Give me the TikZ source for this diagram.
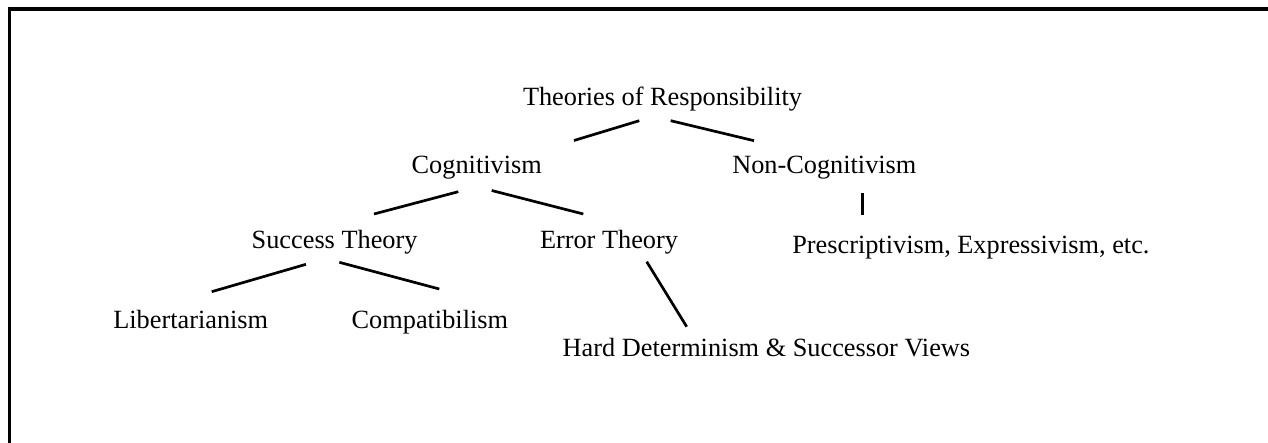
\documentclass[tikz,border=0pt]{standalone}
\usepackage{fontspec}
\setmainfont{Liberation Serif}
\begin{document}
\begin{tikzpicture}[x=1pt,y=-1pt,
  lbl/.style={anchor=base west,inner sep=0pt,outer sep=0pt,font=\fontsize{26.3}{30}\selectfont},
  branch/.style={line width=2.7pt,black},
  frame/.style={line width=3.3pt,black}]
\useasboundingbox (0,0) rectangle (1268,443);
\draw[frame] (9.8,443) -- (9.8,9) -- (1268,9);
% nodes
\node[lbl] (theories) at (523,106) {Theories of Responsibility};
\node[lbl] (cog) at (411.7,173.3) {Cognitivism};
\node[lbl] (noncog) at (732.3,173.3) {Non-Cognitivism};
\node[lbl] (success) at (251.7,248.3) {Success Theory};
\node[lbl] (error) at (540,248.3) {Error Theory};
\node[lbl] (presc) at (792.3,253.3) {Prescriptivism, Expressivism, etc.};
\node[lbl] (lib) at (113.3,328.3) {Libertarianism};
\node[lbl] (comp) at (351.7,328.3) {Compatibilism};
\node[lbl] (hard) at (562.7,356.5) {Hard Determinism \& Successor Views};
% connector ends
\coordinate (t1) at (639.3,120.7); \coordinate (c1) at (574,140.5);
\coordinate (t2) at (670.7,120.7); \coordinate (n1) at (754,140.7);
\coordinate (c2) at (458.3,191.7); \coordinate (s1) at (374,214);
\coordinate (c3) at (491.7,190.5); \coordinate (e1) at (583.3,214);
\coordinate (n2) at (862.7,193.3); \coordinate (p1) at (862.7,215);
\coordinate (s2) at (306,264.3); \coordinate (l1) at (211.7,291.7);
\coordinate (s3) at (339.3,262.3); \coordinate (m1) at (439.3,289);
\coordinate (e2) at (646.7,261.7); \coordinate (h1) at (686.7,326.7);
\draw[branch] (t1) -- (c1);
\draw[branch] (t2) -- (n1);
\draw[branch] (c2) -- (s1);
\draw[branch] (c3) -- (e1);
\draw[branch] (n2) -- (p1);
\draw[branch] (s2) -- (l1);
\draw[branch] (s3) -- (m1);
\draw[branch] (e2) -- (h1);
\end{tikzpicture}
\end{document}
